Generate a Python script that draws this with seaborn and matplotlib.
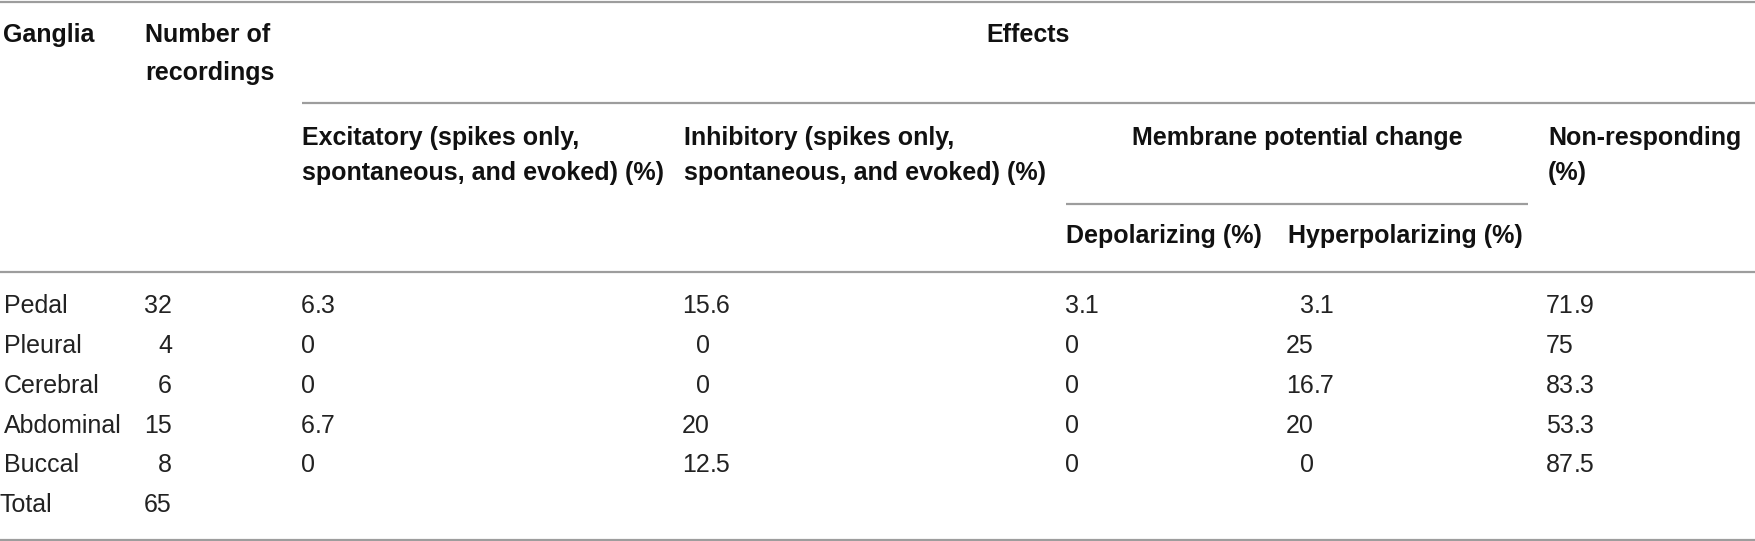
import matplotlib
matplotlib.use('Agg')
import matplotlib.pyplot as plt
import seaborn as sns

# table content
ganglia = ["Pedal", "Pleural", "Cerebral", "Abdominal", "Buccal", "Total"]
recordings = ["32", "4", "6", "15", "8", "65"]
excitatory = ["6.3", "0", "0", "6.7", "0"]
inhibitory = ["15.6", "0", "0", "20", "12.5"]
depolarizing = ["3.1", "0", "0", "0", "0"]
hyperpolarizing = ["3.1", "25", "16.7", "20", "0"]
non_responding = ["71.9", "75", "83.3", "53.3", "87.5"]

sns.set_style("white")
plt.rcParams['font.family'] = ['Liberation Sans', 'DejaVu Sans']

W, H = 1755, 541
fig = plt.figure(figsize=(W / 100, H / 100), dpi=100)
ax = fig.add_axes([0, 0, 1, 1])
ax.set_xlim(0, W)
ax.set_ylim(H, 0)
ax.axis("off")

fs = 18
rule = dict(color="#9d9d9d", lw=1.6)

# rules
ax.hlines(1.5, 0, W, **rule)
ax.hlines(103, 302, W, **rule)
ax.hlines(204, 1066, 1528, **rule)
ax.hlines(272, 0, W, **rule)
ax.hlines(539.5, 0, W, **rule)


def head(x, y, s, ha="left"):
    ax.text(x, y, s, fontsize=fs, fontweight="bold", ha=ha, va="baseline", color="#111111")


# header
head(3, 42, "Ganglia")
head(145, 42, "Number of")
head(145, 80, "recordings")
head(1028, 42, "Effects", ha="center")
head(302, 145, "Excitatory (spikes only,")
head(302, 180, "spontaneous, and evoked) (%)")
head(684, 145, "Inhibitory (spikes only,")
head(684, 180, "spontaneous, and evoked) (%)")
head(1297, 145, "Membrane potential change", ha="center")
head(1548, 145, "Non-responding")
head(1548, 180, "(%)")
head(1066, 243, "Depolarizing (%)")
head(1288, 243, "Hyperpolarizing (%)")

row_y = [313, 353, 393, 433, 472, 512]


def cell(x, y, s, ha="left"):
    ax.text(x, y, s, fontsize=fs, ha=ha, va="baseline", color="#222222")


def decimal_cell(anchor, y, s):
    # integer part ends at the anchor, fraction starts there
    whole, dot, frac = s.partition(".")
    cell(anchor, y, whole, ha="right")
    if dot:
        cell(anchor, y, dot + frac)


for i, name in enumerate(ganglia):
    cell(4 if name != "Total" else 0, row_y[i], name)
    cell(172, row_y[i], recordings[i], ha="right")

columns = [(315, excitatory), (710, inhibitory), (1079, depolarizing),
           (1314, hyperpolarizing), (1574, non_responding)]
for anchor, values in columns:
    for i, v in enumerate(values):
        decimal_cell(anchor, row_y[i], v)

fig.savefig("out.png", dpi=100)
